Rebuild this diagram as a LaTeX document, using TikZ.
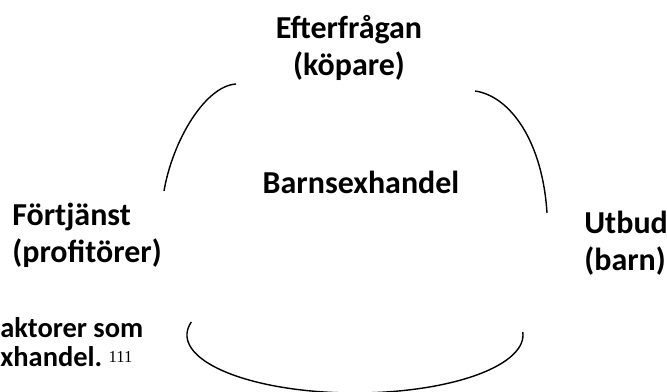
\documentclass[tikz,border=0pt]{standalone}
\usepackage{fontspec}
\setmainfont{Carlito}
\newfontfamily\notefont{Liberation Serif}
\usepackage{tikz}

\tikzset{
    label/.style={font=\fontsize{18.2}{21}\selectfont\bfseries, inner sep=0pt},
    loop/.style={line width=0.8pt}
}

\begin{document}
\begin{tikzpicture}

    \useasboundingbox (0,0) rectangle (13.34,7.82);

    \node[label, align=center] (demand) at (6.98,6.86) {Efterfrågan\\(köpare)};
    \node[label, align=left, anchor=west] (profit) at (0.24,3.12) {Förtjänst\\(profitörer)};
    \node[label, align=left, anchor=west] (supply) at (11.68,2.96) {Utbud\\(barn)};
    \node[label] (trade) at (7.22,4.18) {Barnsexhandel};
    \node[label, align=left, anchor=west, font=\fontsize{16.2}{16.5}\selectfont\bfseries] (note) at (0,0.98)
        {aktorer som\\xhandel.\ {\notefont\mdseries\fontsize{9.5}{9.5}\selectfont\raisebox{0.55ex}{111}}};

    % the three arcs
    \draw[loop] (4.72,6.14) .. controls (4.1,6.1) and (3.45,5.0) .. (3.28,4.0);
    \draw[loop] (9.5,6.0) .. controls (10.2,5.9) and (10.85,5.0) .. (10.94,3.56);
    \draw[loop] (3.826,1.381) arc[start angle=167, end angle=363, x radius=3.36, y radius=1.16];

\end{tikzpicture}
\end{document}
